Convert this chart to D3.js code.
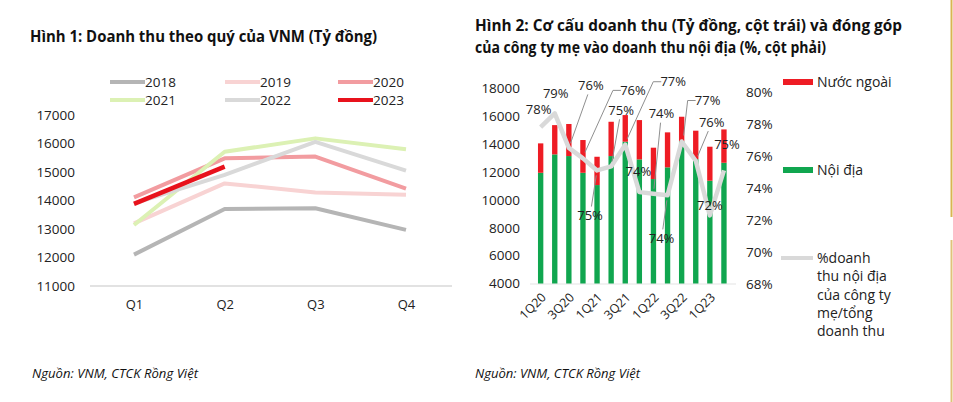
<!DOCTYPE html>
<html><head><meta charset="utf-8">
<script src="https://cdn.jsdelivr.net/npm/d3@7"></script>
<style>
html,body{margin:0;padding:0;background:#fff;}
svg{display:block;font-family:"Open Sans",sans-serif;}
</style></head>
<body>
<svg id="c" width="953" height="402"></svg>
<script>
// ---------- DATA: Figure 1 ----------
const quarters = ["Q1","Q2","Q3","Q4"];
const years = ["2018","2019","2020","2021","2022","2023"];
const rev2018 = [12100, 13700, 13730, 12970];
const rev2019 = [13200, 14600, 14280, 14200];
const rev2020 = [14110, 15480, 15540, 14420];
const rev2021 = [13140, 15710, 16180, 15800];
const rev2022 = [13900, 14900, 16060, 15050];
const rev2023 = [13880, 15190];
const leftTicks = [11000,12000,13000,14000,15000,16000,17000];

// ---------- DATA: Figure 2 ----------
const periods = ["1Q20","2Q20","3Q20","4Q20","1Q21","2Q21","3Q21","4Q21","1Q22","2Q22","3Q22","4Q22","1Q23","2Q23"];
const periodLabels = ["1Q20","3Q20","1Q21","3Q21","1Q22","3Q22","1Q23"];
const domestic = [11940,13260,13140,11940,11060,13140,14170,12900,11490,12330,14210,12920,11370,12660];
const total    = [14050,15360,15440,14290,13090,15600,16080,15720,13740,14840,15960,14960,13810,15050];
const foreign  = total.map((t,i)=>t-domestic[i]);
const parentShare = [77.8,78.65,76.5,75.85,75.1,75.35,76.7,73.75,73.65,73.55,76.9,75.7,72.3,75.1];
const shareLabels = ["78%","79%","76%","76%","75%","75%","77%","74%","74%","74%","77%","76%","72%","75%"];
const barTicks = [4000,6000,8000,10000,12000,14000,16000,18000];
const pctTicks = [68,70,72,74,76,78,80];

// label placement (layout, relative to the point): [dx, dy, leaderType]
const labelLayout = [[-2,-18,0],[1,-20,0],[22,-62,1],[50,-68,2],[-7,45,1],[10,-56,1],[48,-63,2],[-1,-21,0],
                     [8,-80,1],[-6,43,1],[26,-41,2],[16,-38,1],[0,-10,0],[3,-26,0]];

const svg = d3.select("#c");

// ===== Figure 1 =====
const g1 = svg.append("g");
g1.append("text").attr("x",30).attr("y",42).attr("font-weight","bold").attr("font-size",16)
  .attr("fill","#111").attr("textLength",347).attr("lengthAdjust","spacingAndGlyphs")
  .text("Hình 1: Doanh thu theo quý của VNM (Tỷ đồng)");

const x1 = d3.scalePoint().domain(quarters).range([134,406]);
const y1 = d3.scaleLinear().domain([11000,17000]).range([286,115]);

const yAx1 = g1.append("g").attr("transform","translate(79,0)")
  .call(d3.axisLeft(y1).tickValues(leftTicks).tickSize(0).tickPadding(4).tickFormat(d3.format("d")));
yAx1.select(".domain").remove();
yAx1.selectAll("text").attr("font-size",13.5).attr("fill","#222").attr("font-family","Open Sans");

g1.append("line").attr("x1",90).attr("x2",452).attr("y1",y1(11000)).attr("y2",y1(11000))
  .attr("stroke","#d9d9d9").attr("stroke-width",1.5);

const xAx1 = g1.append("g").attr("transform","translate(0,301)")
  .call(d3.axisBottom(x1).tickSize(0).tickPadding(0));
xAx1.select(".domain").remove();
xAx1.selectAll("text").attr("font-size",13).attr("fill","#222").attr("dy","0.6em").attr("font-family","Open Sans");

const series1 = [
  {name:"2018", vals:rev2018, color:"#b5b5b5", w:4},
  {name:"2019", vals:rev2019, color:"#f8d3d3", w:4},
  {name:"2020", vals:rev2020, color:"#f29ca0", w:4},
  {name:"2021", vals:rev2021, color:"#dcf1b4", w:4},
  {name:"2022", vals:rev2022, color:"#d9d9d9", w:4},
  {name:"2023", vals:rev2023, color:"#e8121c", w:4.5}
];
const line1 = d3.line().x((d,i)=>x1(quarters[i])).y(d=>y1(d));
g1.selectAll("path.s").data(series1).enter().append("path").attr("class","s")
  .attr("d",d=>line1(d.vals)).attr("fill","none").attr("stroke",d=>d.color)
  .attr("stroke-width",d=>d.w).attr("stroke-linejoin","round");

// legend
const legX = [110,225,338], legY = [82,100];
const leg1 = g1.selectAll("g.leg").data(series1).enter().append("g")
  .attr("transform",(d,i)=>`translate(${legX[i%3]},${legY[Math.floor(i/3)]})`);
leg1.append("line").attr("x1",0).attr("x2",35).attr("stroke",d=>d.color).attr("stroke-width",4);
leg1.append("text").attr("x",35).attr("dy","0.35em").attr("font-size",13.5).attr("fill","#222").text(d=>d.name);

g1.append("text").attr("x",32).attr("y",378).attr("font-style","italic").attr("font-size",12.5)
  .attr("fill","#111").attr("textLength",166).attr("lengthAdjust","spacingAndGlyphs")
  .text("Nguồn: VNM, CTCK Rồng Việt");

// ===== Figure 2 =====
const g2 = svg.append("g");
g2.append("text").attr("x",475).attr("y",31).attr("font-weight","bold").attr("font-size",16)
  .attr("fill","#111").attr("textLength",427).attr("lengthAdjust","spacingAndGlyphs")
  .text("Hình 2: Cơ cấu doanh thu (Tỷ đồng, cột trái) và đóng góp");
g2.append("text").attr("x",475).attr("y",53).attr("font-weight","bold").attr("font-size",16)
  .attr("fill","#111").attr("textLength",351).attr("lengthAdjust","spacingAndGlyphs")
  .text("của công ty mẹ vào doanh thu nội địa (%, cột phải)");

const x2 = d3.scaleBand().domain(periods).range([533.6,731]).paddingInner(0.62).paddingOuter(0.31);
const y2 = d3.scaleLinear().domain([4000,18000]).range([283.5,88.3]);
const y3 = d3.scaleLinear().domain([68,80]).range([284.5,91.7]);

const yAx2 = g2.append("g").attr("transform","translate(524,0)")
  .call(d3.axisLeft(y2).tickValues(barTicks).tickSize(0).tickPadding(4).tickFormat(d3.format("d")));
yAx2.select(".domain").remove();
yAx2.selectAll("text").attr("font-size",13.5).attr("fill","#222").attr("font-family","Open Sans");

const yAx3 = g2.append("g").attr("transform","translate(742,0)")
  .call(d3.axisRight(y3).tickValues(pctTicks).tickSize(0).tickPadding(4).tickFormat(d=>d+"%"));
yAx3.select(".domain").remove();
yAx3.selectAll("text").attr("font-size",13.5).attr("fill","#222").attr("font-family","Open Sans");

g2.append("line").attr("x1",530).attr("x2",736).attr("y1",y2(4000)+0.5).attr("y2",y2(4000)+0.5)
  .attr("stroke","#e3e3e3").attr("stroke-width",1);

// stacked bars
g2.selectAll("rect.dom").data(periods).enter().append("rect").attr("class","dom")
  .attr("x",d=>x2(d)).attr("width",x2.bandwidth())
  .attr("y",(d,i)=>y2(domestic[i])).attr("height",(d,i)=>y2(4000)-y2(domestic[i]))
  .attr("fill","#10a64f");
g2.selectAll("rect.for").data(periods).enter().append("rect").attr("class","for")
  .attr("x",d=>x2(d)).attr("width",x2.bandwidth())
  .attr("y",(d,i)=>y2(domestic[i]+foreign[i])).attr("height",(d,i)=>y2(domestic[i])-y2(domestic[i]+foreign[i]))
  .attr("fill","#ee1c24");

// share line
const cx = d=>x2(d)+x2.bandwidth()/2;
const line2 = d3.line().x((d,i)=>cx(periods[i])).y(d=>y3(d));
g2.append("path").attr("d",line2(parentShare)).attr("fill","none").attr("stroke","#d9d9d9")
  .attr("stroke-width",4.5).attr("stroke-linejoin","round");

// labels with leaders
periods.forEach((p,i)=>{
  const px = cx(p), py = y3(parentShare[i]);
  const [dx,dy,lt] = labelLayout[i];
  const lx = px+dx, ly = py+dy;
  if(lt===1){
    const ang = Math.atan2(py-ly, px-lx);
    g2.append("line").attr("x1",lx+Math.cos(ang)*9).attr("y1",ly+Math.sin(ang)*9)
      .attr("x2",px-Math.cos(ang)*5).attr("y2",py-Math.sin(ang)*5)
      .attr("stroke","#8f8f8f").attr("stroke-width",1);
  } else if(lt===2){
    const sy = ly;
    g2.append("polyline").attr("points",`${lx-12},${sy} ${lx-20},${sy} ${px+2},${py-6}`)
      .attr("fill","none").attr("stroke","#8f8f8f").attr("stroke-width",1);
  }
  g2.append("text").attr("x",lx).attr("y",ly).attr("text-anchor","middle").attr("dy","0.35em")
    .attr("font-size",13).attr("fill","#222").text(shareLabels[i]);
});

// x labels rotated
periodLabels.forEach(l=>{
  const xx = cx(l), yy = 295;
  g2.append("text").attr("transform",`translate(${xx+3},${yy}) rotate(-45)`)
    .attr("text-anchor","end").attr("dy","0.35em").attr("font-size",12.5).attr("fill","#222").text(l);
});

// legend
const lg = g2.append("g");
lg.append("rect").attr("x",783).attr("y",79).attr("width",30).attr("height",6).attr("fill","#ee1c24");
lg.append("text").attr("x",817).attr("y",82).attr("dy","0.35em").attr("font-size",14).attr("fill","#222").text("Nước ngoài");
lg.append("rect").attr("x",783).attr("y",167).attr("width",30).attr("height",6).attr("fill","#10a64f");
lg.append("text").attr("x",817).attr("y",170).attr("dy","0.35em").attr("font-size",14).attr("fill","#222").text("Nội địa");
lg.append("line").attr("x1",781).attr("x2",813).attr("y1",258).attr("y2",258).attr("stroke","#d9d9d9").attr("stroke-width",4);
["%doanh","thu nội địa","của công ty","mẹ/tổng","doanh thu"].forEach((t,i)=>{
  lg.append("text").attr("x",817).attr("y",258+i*18.3).attr("dy","0.35em").attr("font-size",14).attr("fill","#222").text(t);
});

g2.append("text").attr("x",475).attr("y",378).attr("font-style","italic").attr("font-size",12.5)
  .attr("fill","#111").attr("textLength",165).attr("lengthAdjust","spacingAndGlyphs")
  .text("Nguồn: VNM, CTCK Rồng Việt");

// gold rule on the right edge
svg.append("line").attr("x1",951.5).attr("x2",951.5).attr("y1",0).attr("y2",217).attr("stroke","#d8b552").attr("stroke-width",2);
svg.append("line").attr("x1",951.5).attr("x2",951.5).attr("y1",240).attr("y2",402).attr("stroke","#e0c27a").attr("stroke-width",2);
</script>
</body></html>
